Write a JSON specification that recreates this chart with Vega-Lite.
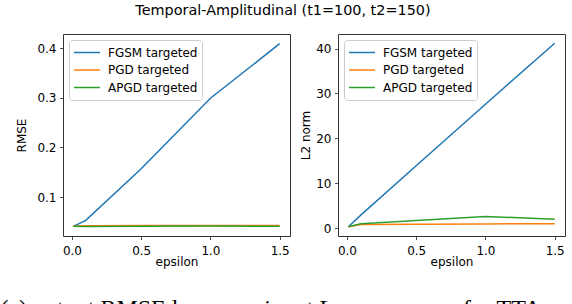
{
  "$schema": "https://vega.github.io/schema/vega-lite/v6.json",
  "padding": {"left": 0, "top": 3, "right": 5, "bottom": 0},
  "background": "white",
  "title": {"text": "Temporal-Amplitudinal (t1=100, t2=150)", "fontSize": 14.4, "fontWeight": "normal", "font": "DejaVu Sans", "color": "black", "anchor": "middle", "offset": 15},
  "config": {
    "font": "DejaVu Sans",
    "view": {"stroke": "#333", "strokeWidth": 1},
    "axis": {"grid": false, "domain": false, "tickColor": "#222", "tickSize": 3.5, "tickWidth": 0.8, "labelFontSize": 12, "labelColor": "black", "titleFontSize": 12, "titleFontWeight": "normal", "titleColor": "black", "labelFont": "DejaVu Sans", "titleFont": "DejaVu Sans"},
    "axisX": {"labelPadding": 6},
    "axisY": {"labelPadding": 3.5},
    "legend": {"orient": "top-left", "offset": 6, "title": null, "symbolType": "stroke", "symbolSize": 676, "symbolStrokeWidth": 1.5, "labelFontSize": 12, "labelFont": "DejaVu Sans", "labelColor": "black", "labelOffset": 7, "padding": 4, "clipHeight": 17, "rowPadding": 0.5, "strokeColor": "#cccccc", "fillColor": "white", "cornerRadius": 3}
  },
  "datasets": {
    "rows": [
      {"metric": "RMSE", "attack": "FGSM targeted", "epsilon": 0.01, "value": 0.041},
      {"metric": "RMSE", "attack": "FGSM targeted", "epsilon": 0.1, "value": 0.053},
      {"metric": "RMSE", "attack": "FGSM targeted", "epsilon": 0.5, "value": 0.157},
      {"metric": "RMSE", "attack": "FGSM targeted", "epsilon": 1.0, "value": 0.299},
      {"metric": "RMSE", "attack": "FGSM targeted", "epsilon": 1.5, "value": 0.409},
      {"metric": "RMSE", "attack": "PGD targeted", "epsilon": 0.01, "value": 0.041},
      {"metric": "RMSE", "attack": "PGD targeted", "epsilon": 0.1, "value": 0.0422},
      {"metric": "RMSE", "attack": "PGD targeted", "epsilon": 0.5, "value": 0.0425},
      {"metric": "RMSE", "attack": "PGD targeted", "epsilon": 1.0, "value": 0.0425},
      {"metric": "RMSE", "attack": "PGD targeted", "epsilon": 1.5, "value": 0.0425},
      {"metric": "RMSE", "attack": "APGD targeted", "epsilon": 0.01, "value": 0.041},
      {"metric": "RMSE", "attack": "APGD targeted", "epsilon": 0.1, "value": 0.0408},
      {"metric": "RMSE", "attack": "APGD targeted", "epsilon": 0.5, "value": 0.041},
      {"metric": "RMSE", "attack": "APGD targeted", "epsilon": 1.0, "value": 0.0415},
      {"metric": "RMSE", "attack": "APGD targeted", "epsilon": 1.5, "value": 0.0412},
      {"metric": "L2", "attack": "FGSM targeted", "epsilon": 0.01, "value": 0.3},
      {"metric": "L2", "attack": "FGSM targeted", "epsilon": 0.1, "value": 2.9},
      {"metric": "L2", "attack": "FGSM targeted", "epsilon": 0.5, "value": 13.9},
      {"metric": "L2", "attack": "FGSM targeted", "epsilon": 1.0, "value": 27.6},
      {"metric": "L2", "attack": "FGSM targeted", "epsilon": 1.5, "value": 41.2},
      {"metric": "L2", "attack": "PGD targeted", "epsilon": 0.01, "value": 0.3},
      {"metric": "L2", "attack": "PGD targeted", "epsilon": 0.1, "value": 0.8},
      {"metric": "L2", "attack": "PGD targeted", "epsilon": 0.5, "value": 0.85},
      {"metric": "L2", "attack": "PGD targeted", "epsilon": 1.0, "value": 0.95},
      {"metric": "L2", "attack": "PGD targeted", "epsilon": 1.5, "value": 1.0},
      {"metric": "L2", "attack": "APGD targeted", "epsilon": 0.01, "value": 0.3},
      {"metric": "L2", "attack": "APGD targeted", "epsilon": 0.1, "value": 1.0},
      {"metric": "L2", "attack": "APGD targeted", "epsilon": 0.5, "value": 1.7},
      {"metric": "L2", "attack": "APGD targeted", "epsilon": 1.0, "value": 2.6},
      {"metric": "L2", "attack": "APGD targeted", "epsilon": 1.5, "value": 2.0}
    ]
  },
  "vconcat": [
    {
      "title": {"text": "(c) output RMSE loss vs. ϵ input L∞ norm vs. ϵ for TTA", "orient": "bottom", "anchor": "start", "font": "Liberation Serif", "fontSize": 24, "fontWeight": "normal", "color": "black", "dx": -15, "offset": 29},
      "hconcat": [
        {
          "width": 227,
          "height": 202,
          "data": {"name": "rows"},
          "transform": [{"filter": "datum.metric === 'RMSE'"}],
          "mark": {"type": "line", "strokeWidth": 1.5, "clip": true},
          "encoding": {
            "x": {"field": "epsilon", "type": "quantitative", "title": "epsilon", "scale": {"domain": [-0.0645, 1.5745], "nice": false, "zero": false}, "axis": {"values": [0, 0.5, 1.0, 1.5], "format": ".1f", "titlePadding": 0}},
            "y": {"field": "value", "type": "quantitative", "title": "RMSE", "scale": {"domain": [0.0215, 0.4285], "nice": false, "zero": false}, "axis": {"values": [0.1, 0.2, 0.3, 0.4], "format": ".1f", "titlePadding": 8}},
            "color": {"field": "attack", "type": "nominal", "sort": ["FGSM targeted", "PGD targeted", "APGD targeted"], "scale": {"domain": ["FGSM targeted", "PGD targeted", "APGD targeted"], "range": ["#1f77b4", "#ff7f0e", "#2ca02c"]}}
          }
        },
        {
          "width": 227,
          "height": 202,
          "data": {"name": "rows"},
          "transform": [{"filter": "datum.metric === 'L2'"}],
          "mark": {"type": "line", "strokeWidth": 1.5, "clip": true},
          "encoding": {
            "x": {"field": "epsilon", "type": "quantitative", "title": "epsilon", "scale": {"domain": [-0.0645, 1.5745], "nice": false, "zero": false}, "axis": {"values": [0, 0.5, 1.0, 1.5], "format": ".1f", "titlePadding": 0}},
            "y": {"field": "value", "type": "quantitative", "title": "L2 norm", "scale": {"domain": [-1.75, 43.25], "nice": false, "zero": false}, "axis": {"values": [0, 10, 20, 30, 40], "titlePadding": 3}},
            "color": {"field": "attack", "type": "nominal", "sort": ["FGSM targeted", "PGD targeted", "APGD targeted"], "scale": {"domain": ["FGSM targeted", "PGD targeted", "APGD targeted"], "range": ["#1f77b4", "#ff7f0e", "#2ca02c"]}}
          }
        }
      ],
      "spacing": 8,
      "resolve": {"legend": {"color": "independent"}}
    }
  ]
}
